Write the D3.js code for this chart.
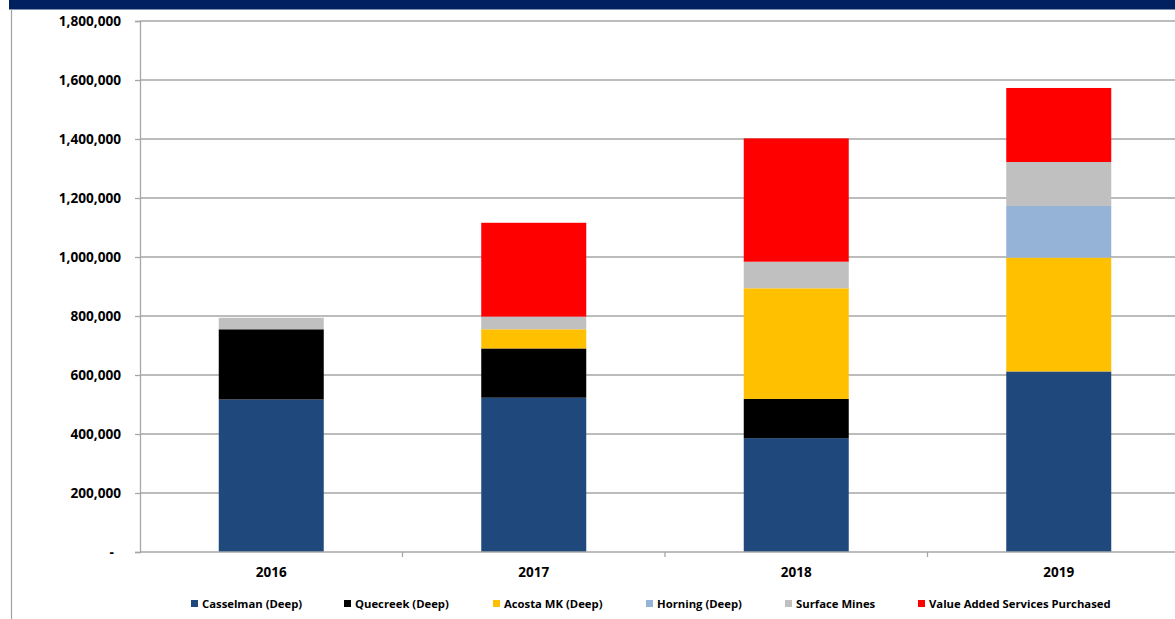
<!DOCTYPE html>
<html><head><meta charset="utf-8">
<script src="https://cdn.jsdelivr.net/npm/d3@7"></script>
<style>body{margin:0;background:#fff;}svg{display:block;font-family:"Open Sans",sans-serif;}</style>
</head><body><svg id="c" width="1175" height="619"></svg>
<script>
const years = ["2016","2017","2018","2019"];
const seriesNames = ["Casselman (Deep)","Quecreek (Deep)","Acosta MK (Deep)","Horning (Deep)","Surface Mines","Value Added Services Purchased"];
const casselman = [517000, 523000, 386000, 612000];
const quecreek  = [238000, 167000, 133000, 0];
const acosta    = [0, 65000, 375000, 386000];
const horning   = [0, 0, 0, 175000];
const surface   = [39000, 43000, 90000, 149000];
const valueAdded= [0, 318000, 418000, 251000];
const yTicks = [0,200000,400000,600000,800000,1000000,1200000,1400000,1600000,1800000];
const colors = ["#1F497D","#000000","#FFC000","#95B3D7","#C0C0C0","#FF0000"];

const seriesVals = [casselman, quecreek, acosta, horning, surface, valueAdded];
const rows = years.map((yr,i)=>{const r={year:yr}; seriesNames.forEach((n,k)=>r[n]=seriesVals[k][i]); return r;});
const stacked = d3.stack().keys(seriesNames)(rows);

const svg = d3.select("#c");
svg.append("rect").attr("x",9).attr("y",0).attr("width",1166).attr("height",9.5).attr("fill","#002060");
svg.append("line").attr("x1",11.5).attr("x2",11.5).attr("y1",9).attr("y2",619).attr("stroke","#A0A0A0").attr("stroke-width",1.2);

const pLeft=140, pRight=1190, pTop=21, pBottom=552;
const x = d3.scaleBand().domain(years).range([pLeft,pRight]).paddingInner(0.6).paddingOuter(0.3);
const y = d3.scaleLinear().domain([0,1800000]).range([pBottom,pTop]);

svg.append("g").selectAll("line").data(yTicks.slice(1)).join("line")
  .attr("x1",pLeft).attr("x2",1175).attr("y1",d=>y(d)).attr("y2",d=>y(d))
  .attr("stroke","#A6A6A6").attr("stroke-width",1.3);

const yAxis = d3.axisLeft(y).tickValues(yTicks).tickSize(5).tickPadding(14)
  .tickFormat(d=> d===0 ? "-  " : d3.format(",")(d));
const gy = svg.append("g").attr("transform",`translate(${pLeft},0)`).call(yAxis);
gy.select(".domain").attr("stroke","#A6A6A6").attr("stroke-width",1.3);
gy.selectAll(".tick line").attr("stroke","#A6A6A6").attr("stroke-width",1.3);
gy.selectAll("text").attr("font-family","'Open Sans',sans-serif").attr("font-weight","bold").attr("font-size","13.6px").attr("fill","#000").style("white-space","pre");

svg.append("g").selectAll("g").data(stacked).join("g").attr("fill",(d,i)=>colors[i])
  .selectAll("rect").data(d=>d).join("rect")
  .attr("x",d=>x(d.data.year)).attr("width",x.bandwidth())
  .attr("y",d=>y(d[1])).attr("height",d=>Math.max(0,y(d[0])-y(d[1])));

const step = x.step();
svg.append("line").attr("x1",pLeft).attr("x2",1175).attr("y1",pBottom).attr("y2",pBottom).attr("stroke","#A6A6A6").attr("stroke-width",1.3);
svg.append("g").selectAll("line").data(years.slice(1)).join("line")
  .attr("x1",d=>x(d)-(step-x.bandwidth())/2).attr("x2",d=>x(d)-(step-x.bandwidth())/2)
  .attr("y1",pBottom).attr("y2",pBottom+5).attr("stroke","#A6A6A6").attr("stroke-width",1.3);
svg.append("g").selectAll("text").data(years).join("text")
  .attr("x",d=>x(d)+x.bandwidth()/2).attr("y",577).attr("text-anchor","middle")
  .attr("font-weight","bold").attr("font-size","13.5px").text(d=>d);

const legX = [191,344,493,646,785,918];
const lg = svg.append("g").selectAll("g").data(seriesNames).join("g")
  .attr("transform",(d,i)=>`translate(${legX[i]},604)`);
lg.append("rect").attr("x",0).attr("y",-4).attr("width",7).attr("height",7).attr("fill",(d,i)=>colors[i]);
lg.append("text").attr("x",11).attr("y",3.8).attr("font-weight","bold").attr("font-size","11.3px").text(d=>d);
</script></body></html>
